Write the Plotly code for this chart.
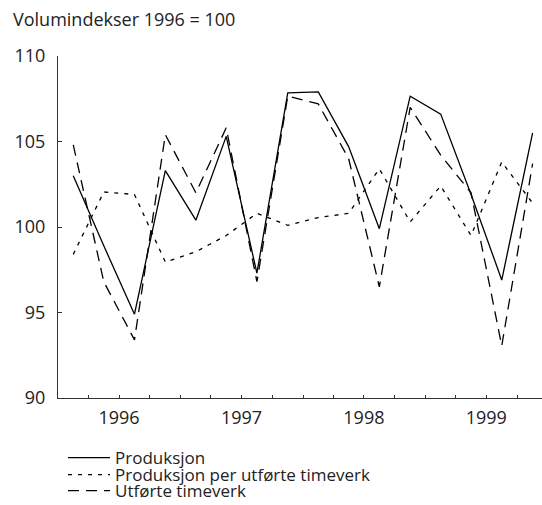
import plotly.graph_objects as go

quarters = ["1996-01-01", "1996-04-01", "1996-07-01", "1996-10-01",
            "1997-01-01", "1997-04-01", "1997-07-01", "1997-10-01",
            "1998-01-01", "1998-04-01", "1998-07-01", "1998-10-01",
            "1999-01-01", "1999-04-01", "1999-07-01", "1999-10-01"]
produksjon = [103.0, 98.9, 94.9, 103.3, 100.4, 105.3, 97.3, 107.85,
              107.9, 104.7, 99.9, 107.65, 106.6, 101.9, 96.9, 105.5]
per_timeverk = [98.4, 102.05, 101.9, 97.95, 98.55, 99.5, 100.8, 100.1,
                100.55, 100.8, 103.4, 100.3, 102.4, 99.5, 103.8, 101.4]
timeverk = [104.8, 96.8, 93.4, 105.4, 102.0, 105.8, 96.8, 107.65,
            107.2, 104.0, 96.5, 107.0, 104.2, 102.0, 93.05, 103.7]

year_mid = ["1996-07-01", "1997-07-01", "1998-07-01", "1999-07-01"]
year_labels = ["1996", "1997", "1998", "1999"]
year_start = ["1996-01-01", "1997-01-01", "1998-01-01", "1999-01-01", "2000-01-01"]

FONT = "Open Sans"
FS = 18
W, H = 542, 505
L, R, T, B = 58, 0, 56, 107
PW, PH = W - L - R, H - T - B

series = [
    ("Produksjon", produksjon, "solid", "legend"),
    ("Produksjon per utførte timeverk", per_timeverk, "4px,6px", "legend2"),
    ("Utførte timeverk", timeverk, "11px,7px", "legend3"),
]

fig = go.Figure()
for name, vals, dash, lg in series:
    fig.add_trace(go.Scatter(
        x=quarters, y=vals, name=name, mode="lines", showlegend=True,
        xperiod="M3", xperiodalignment="middle",
        line=dict(color="black", width=1.3, dash=dash),
        legend=lg, hoverinfo="skip"))

legend_common = dict(xref="paper", yref="paper", x=(63 - L) / PW,
                     xanchor="left", yanchor="middle", visible=True,
                     font=dict(family=FONT, size=FS - 1, color="#222"),
                     itemwidth=42, bgcolor="rgba(0,0,0,0)")
legend_y = [458, 475, 491]

fig.update_layout(
    width=W, height=H,
    showlegend=True,
    margin=dict(l=L, r=R, t=T, b=B, autoexpand=False),
    plot_bgcolor="white", paper_bgcolor="white",
    font=dict(family=FONT, size=FS, color="#222"),
    title=dict(text="Volumindekser 1996 = 100", xref="container", yref="container",
               x=13 / W, xanchor="left", y=1 - 20 / H, yanchor="middle",
               font=dict(family=FONT, size=FS, color="#222")),
    xaxis=dict(type="date", range=["1996-01-01", "1999-12-14"],
               automargin=False,
               showline=True, linecolor="#333", linewidth=1.2,
               showgrid=False, zeroline=False,
               tickmode="array", tickvals=year_mid, ticktext=year_labels,
               ticks="inside", ticklen=3, tickcolor="#333", tickwidth=1,
               ticklabelstandoff=3, tickangle=0,
               minor=dict(ticks="inside", ticklen=3, tickcolor="#333",
                          dtick="M3", tick0="1996-01-01", showgrid=False),
               tickfont=dict(family=FONT, size=FS, color="#222")),
    xaxis2=dict(type="date", range=["1996-01-01", "1999-12-14"],
                overlaying="x", anchor="y", side="bottom", automargin=False,
                showline=False, showgrid=False, zeroline=False,
                tickmode="array", tickvals=year_start,
                ticks="inside", ticklen=8, tickcolor="#333", tickwidth=1.3,
                showticklabels=False),
    yaxis=dict(range=[90, 110], tickvals=[90, 95, 100, 105, 110],
               automargin=False,
               showline=True, linecolor="#333", linewidth=1.2,
               showgrid=False, zeroline=False,
               ticks="inside", ticklen=4, tickcolor="#333",
               ticklabelstandoff=8,
               tickfont=dict(family=FONT, size=FS, color="#222")),
    legend=dict(y=(H - B - legend_y[0]) / PH, **legend_common),
    legend2=dict(y=(H - B - legend_y[1]) / PH, **legend_common),
    legend3=dict(y=(H - B - legend_y[2]) / PH, **legend_common),
)

fig.write_html("out.html",
               config={"displayModeBar": False},
               post_script="document.body.style.margin='0';document.body.style.overflow='hidden';")
